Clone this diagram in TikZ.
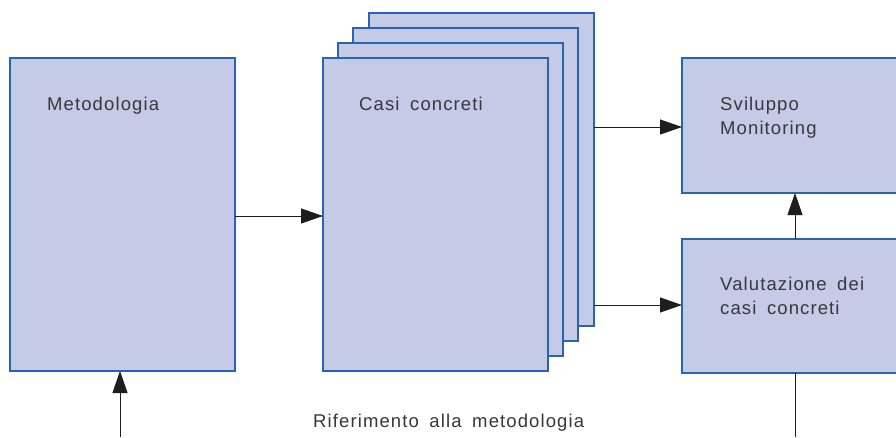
\documentclass[tikz,border=0pt]{standalone}
\usepackage{fontspec}
\setmainfont{Liberation Sans}[LetterSpace=6,WordSpace=1.7]
\usetikzlibrary{arrows.meta}
\definecolor{boxfill}{RGB}{197,203,230}
\definecolor{boxline}{RGB}{40,100,175}
\definecolor{txt}{RGB}{55,55,60}
\definecolor{arrc}{RGB}{30,30,30}
\begin{document}
\begin{tikzpicture}[x=1pt,y=-1pt,
 box/.style={draw=boxline, fill=boxfill, line width=1.2pt, anchor=north west, inner sep=0pt, outer sep=0pt, minimum width=225pt, minimum height=313pt},
 lbl/.style={anchor=base west, inner sep=0pt, text=txt, font=\fontsize{18.5}{24}\selectfont, align=left},
 arr/.style={-{Triangle[length=22pt,width=15pt]}, line width=0.8pt, arrc},
 ln/.style={line width=0.8pt, arrc},
]
\useasboundingbox (0,0) rectangle (896,437);
\clip (0,0) rectangle (896,437);
\fill[white] (0,0) rectangle (896,437);
% boxes
\node[box] (meto) at (10,58) {};
\node[box] (s4) at (369,13) {};
\node[box] (s3) at (353,28) {};
\node[box] (s2) at (338,43) {};
\node[box] (casi) at (323,58) {};
\node[box, minimum width=240pt, minimum height=135pt] (svil) at (682,58) {};
\node[box, minimum width=240pt, minimum height=134pt] (valu) at (682,239) {};
% labels
\node[lbl] (tmeto) at (47,110) {Metodologia};
\node[lbl] (tcasi) at (359,110) {Casi concreti};
\node[lbl] (tsvil) at (720,134) {Sviluppo\\Monitoring};
\node[lbl] (tvalu) at (720,314) {Valutazione dei\\casi concreti};
\node[lbl] (trif) at (313,427) {Riferimento alla metodologia};
% coordinates
\coordinate (b1) at (120,437);
\coordinate (b2) at (795,437);
% connectors
\draw[arr] (meto.east |- 0,216) -- (casi.west |- 0,216);
\draw[arr] (s4.east |- 0,127) -- (svil.west |- 0,127);
\draw[arr] (s4.east |- 0,305) -- (valu.west |- 0,305);
\draw[arr] (valu.north -| 795,0) -- (svil.south -| 795,0);
\draw[arr] (b1) -- (meto.south -| b1);
\draw[ln] (valu.south -| b2) -- (b2);
\end{tikzpicture}
\end{document}
